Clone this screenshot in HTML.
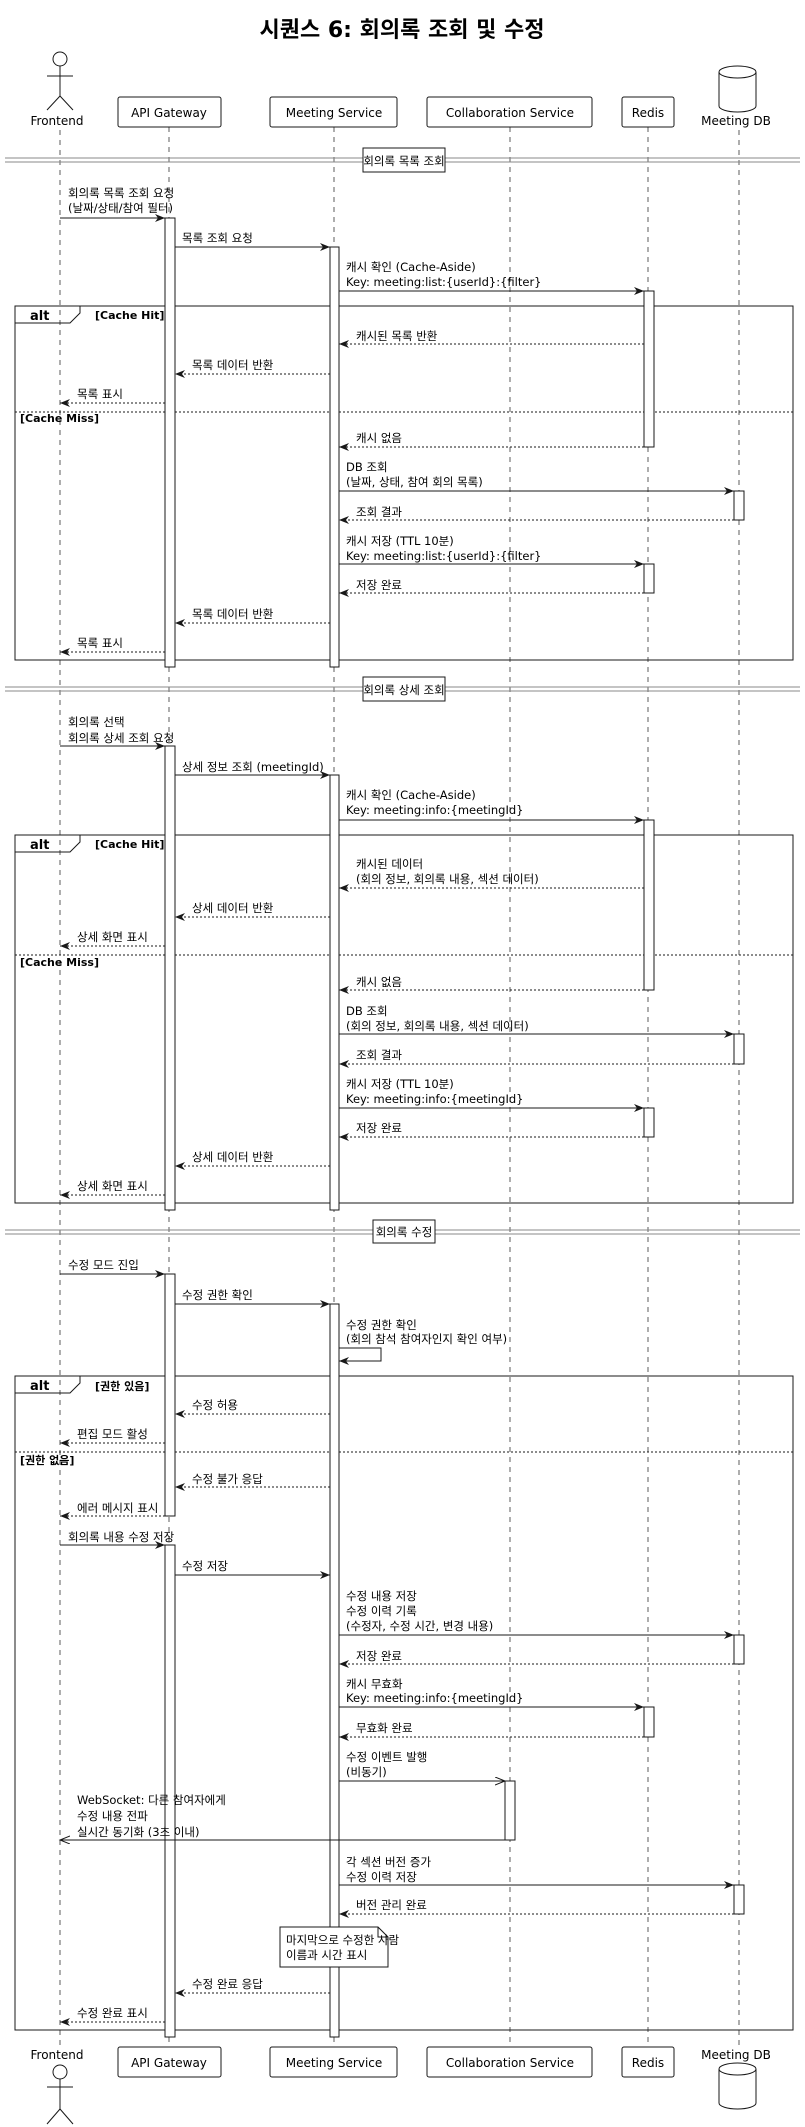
<!DOCTYPE html>
<html><head><meta charset="utf-8">
<style>
html,body{margin:0;padding:0;background:#fff;}
svg{display:block;}
text{font-family:"DejaVu Sans","Liberation Sans","Noto Sans CJK KR",sans-serif;font-size:12px;fill:#000;}
.t{font-size:11.5px;}
.b{font-weight:bold;font-size:11px;}
.ll{stroke:#181818;stroke-width:0.7;stroke-dasharray:5,5;}
.m{stroke:#181818;stroke-width:1;fill:none;}
.r{stroke:#181818;stroke-width:1;stroke-dasharray:2,2;fill:none;}
.act{fill:#fff;stroke:#181818;stroke-width:1;}
.box{fill:#fff;stroke:#181818;stroke-width:1;}
</style></head><body>
<svg width="805" height="2127" viewBox="0 0 805 2127" xmlns="http://www.w3.org/2000/svg">
<defs>
<marker id="a" markerWidth="12" markerHeight="10" refX="10" refY="4" orient="auto" markerUnits="userSpaceOnUse"><path d="M0,0 L10,4 L0,8 L3,4 Z" fill="#181818"/></marker>
<marker id="o" markerWidth="12" markerHeight="10" refX="10" refY="4" orient="auto" markerUnits="userSpaceOnUse"><path d="M0,0 L10,4 L0,8" fill="none" stroke="#181818"/></marker>
</defs>
<text x="402" y="37" text-anchor="middle" style="font-size:22px;font-weight:bold">시퀀스 6: 회의록 조회 및 수정</text>

<!-- lifelines -->
<line class="ll" x1="60" y1="130" x2="60" y2="2047"/>
<line class="ll" x1="169" y1="127" x2="169" y2="2047"/>
<line class="ll" x1="334" y1="127" x2="334" y2="2047"/>
<line class="ll" x1="510" y1="127" x2="510" y2="2047"/>
<line class="ll" x1="648" y1="127" x2="648" y2="2047"/>
<line class="ll" x1="739" y1="130" x2="739" y2="2047"/>

<!-- top participants -->
<g fill="none" stroke="#181818" stroke-width="1">
<circle cx="60" cy="59" r="7" fill="#fff"/><line x1="60" y1="66" x2="60" y2="96"/><line x1="47" y1="76" x2="73" y2="76"/><line x1="60" y1="96" x2="47" y2="110"/><line x1="60" y1="96" x2="73" y2="110"/>
<path d="M719,72 L719,106 A18.5,6 0 0 0 756,106 L756,72 A18.5,6 0 0 0 719,72 A18.5,6 0 0 0 756,72" fill="#fff"/>
</g>
<text x="57" y="125" text-anchor="middle">Frontend</text>
<text x="736" y="125" text-anchor="middle">Meeting DB</text>
<rect class="box" x="118" y="97" width="103" height="30" rx="2"/><text x="169" y="117" text-anchor="middle">API Gateway</text>
<rect class="box" x="270" y="97" width="127" height="30" rx="2"/><text x="334" y="117" text-anchor="middle">Meeting Service</text>
<rect class="box" x="427" y="97" width="165" height="30" rx="2"/><text x="510" y="117" text-anchor="middle">Collaboration Service</text>
<rect class="box" x="622" y="97" width="52" height="30" rx="2"/><text x="648" y="117" text-anchor="middle">Redis</text>

<!-- bottom participants -->
<rect class="box" x="118" y="2047" width="103" height="30" rx="2"/><text x="169" y="2067" text-anchor="middle">API Gateway</text>
<rect class="box" x="270" y="2047" width="127" height="30" rx="2"/><text x="334" y="2067" text-anchor="middle">Meeting Service</text>
<rect class="box" x="427" y="2047" width="165" height="30" rx="2"/><text x="510" y="2067" text-anchor="middle">Collaboration Service</text>
<rect class="box" x="622" y="2047" width="52" height="30" rx="2"/><text x="648" y="2067" text-anchor="middle">Redis</text>
<text x="57" y="2059" text-anchor="middle">Frontend</text>
<text x="736" y="2059" text-anchor="middle">Meeting DB</text>
<g fill="none" stroke="#181818" stroke-width="1">
<circle cx="60" cy="2072" r="7" fill="#fff"/><line x1="60" y1="2079" x2="60" y2="2109"/><line x1="47" y1="2087" x2="73" y2="2087"/><line x1="60" y1="2109" x2="47" y2="2124"/><line x1="60" y1="2109" x2="73" y2="2124"/>
<path d="M719,2069 L719,2103 A18.5,6 0 0 0 756,2103 L756,2069 A18.5,6 0 0 0 719,2069 A18.5,6 0 0 0 756,2069" fill="#fff"/>
</g>

<!-- dividers -->
<g stroke="#888" stroke-width="1">
<line x1="5" y1="158" x2="800" y2="158"/><line x1="5" y1="162" x2="800" y2="162"/>
<line x1="5" y1="687" x2="800" y2="687"/><line x1="5" y1="691" x2="800" y2="691"/>
<line x1="5" y1="1230" x2="800" y2="1230"/><line x1="5" y1="1234" x2="800" y2="1234"/>
</g>
<rect class="box" x="363" y="148" width="82" height="24"/><text x="404" y="165" text-anchor="middle" class="t">회의록 목록 조회</text>
<rect class="box" x="363" y="677" width="82" height="24"/><text x="404" y="694" text-anchor="middle" class="t">회의록 상세 조회</text>
<rect class="box" x="373" y="1220" width="62" height="23"/><text x="404" y="1236" text-anchor="middle" class="t">회의록 수정</text>

<!-- alt frames -->
<g fill="none" stroke="#181818" stroke-width="1">
<rect x="15" y="306" width="778" height="354"/><path d="M15,323 L70,323 L80,313 L80,306"/>
<line x1="15" y1="412" x2="793" y2="412" stroke-dasharray="2,2"/>
<rect x="15" y="835" width="778" height="368"/><path d="M15,852 L70,852 L80,842 L80,835"/>
<line x1="15" y1="955" x2="793" y2="955" stroke-dasharray="2,2"/>
<rect x="15" y="1376" width="778" height="654"/><path d="M15,1393 L70,1393 L80,1383 L80,1376"/>
<line x1="15" y1="1452" x2="793" y2="1452" stroke-dasharray="2,2"/>
</g>
<text x="30" y="320" class="b" style="font-size:13px">alt</text><text x="95" y="319" class="b">[Cache Hit]</text><text x="20" y="422" class="b">[Cache Miss]</text>
<text x="30" y="849" class="b" style="font-size:13px">alt</text><text x="95" y="848" class="b">[Cache Hit]</text><text x="20" y="966" class="b">[Cache Miss]</text>
<text x="30" y="1390" class="b" style="font-size:13px">alt</text><text x="95" y="1390" class="b">[권한 있음]</text><text x="20" y="1464" class="b">[권한 없음]</text>

<!-- activations -->
<rect class="act" x="165" y="218" width="10" height="449"/>
<rect class="act" x="330" y="247" width="9" height="420"/>
<rect class="act" x="644" y="291" width="10" height="156"/>
<rect class="act" x="734" y="491" width="10" height="29"/>
<rect class="act" x="644" y="564" width="10" height="29"/>
<rect class="act" x="165" y="746" width="10" height="464"/>
<rect class="act" x="330" y="775" width="9" height="435"/>
<rect class="act" x="644" y="820" width="10" height="170"/>
<rect class="act" x="734" y="1034" width="10" height="30"/>
<rect class="act" x="644" y="1108" width="10" height="29"/>
<rect class="act" x="165" y="1274" width="10" height="242"/>
<rect class="act" x="330" y="1304" width="9" height="733"/>
<rect class="act" x="165" y="1545" width="10" height="492"/>
<rect class="act" x="734" y="1635" width="10" height="29"/>
<rect class="act" x="644" y="1707" width="10" height="30"/>
<rect class="act" x="505" y="1781" width="10" height="59"/>
<rect class="act" x="734" y="1885" width="10" height="29"/>

<!-- section 1 -->
<text x="68" y="197" class="t">회의록 목록 조회 요청</text><text x="68" y="212" class="t">(날짜/상태/참여 필터)</text>
<line class="m" x1="60" y1="218" x2="165" y2="218" marker-end="url(#a)"/>
<text x="182" y="242" class="t">목록 조회 요청</text>
<line class="m" x1="175" y1="247" x2="330" y2="247" marker-end="url(#a)"/>
<text x="346" y="271" class="t">캐시 확인 (Cache-Aside)</text><text x="346" y="286" class="t">Key: meeting:list:{userId}:{filter}</text>
<line class="m" x1="339" y1="291" x2="644" y2="291" marker-end="url(#a)"/>
<text x="356" y="340" class="t">캐시된 목록 반환</text>
<line class="r" x1="644" y1="344" x2="339" y2="344" marker-end="url(#a)"/>
<text x="192" y="369" class="t">목록 데이터 반환</text>
<line class="r" x1="330" y1="374" x2="175" y2="374" marker-end="url(#a)"/>
<text x="77" y="398" class="t">목록 표시</text>
<line class="r" x1="165" y1="403" x2="60" y2="403" marker-end="url(#a)"/>
<text x="356" y="442" class="t">캐시 없음</text>
<line class="r" x1="644" y1="447" x2="339" y2="447" marker-end="url(#a)"/>
<text x="346" y="471" class="t">DB 조회</text><text x="346" y="486" class="t">(날짜, 상태, 참여 회의 목록)</text>
<line class="m" x1="339" y1="491" x2="734" y2="491" marker-end="url(#a)"/>
<text x="356" y="516" class="t">조회 결과</text>
<line class="r" x1="734" y1="520" x2="339" y2="520" marker-end="url(#a)"/>
<text x="346" y="545" class="t">캐시 저장 (TTL 10분)</text><text x="346" y="560" class="t">Key: meeting:list:{userId}:{filter}</text>
<line class="m" x1="339" y1="564" x2="644" y2="564" marker-end="url(#a)"/>
<text x="356" y="589" class="t">저장 완료</text>
<line class="r" x1="644" y1="593" x2="339" y2="593" marker-end="url(#a)"/>
<text x="192" y="618" class="t">목록 데이터 반환</text>
<line class="r" x1="330" y1="623" x2="175" y2="623" marker-end="url(#a)"/>
<text x="77" y="647" class="t">목록 표시</text>
<line class="r" x1="165" y1="652" x2="60" y2="652" marker-end="url(#a)"/>

<!-- section 2 -->
<text x="68" y="726" class="t">회의록 선택</text><text x="68" y="742" class="t">회의록 상세 조회 요청</text>
<line class="m" x1="60" y1="746" x2="165" y2="746" marker-end="url(#a)"/>
<text x="182" y="771" class="t">상세 정보 조회 (meetingId)</text>
<line class="m" x1="175" y1="775" x2="330" y2="775" marker-end="url(#a)"/>
<text x="346" y="799" class="t">캐시 확인 (Cache-Aside)</text><text x="346" y="814" class="t">Key: meeting:info:{meetingId}</text>
<line class="m" x1="339" y1="820" x2="644" y2="820" marker-end="url(#a)"/>
<text x="356" y="868" class="t">캐시된 데이터</text><text x="356" y="883" class="t">(회의 정보, 회의록 내용, 섹션 데이터)</text>
<line class="r" x1="644" y1="888" x2="339" y2="888" marker-end="url(#a)"/>
<text x="192" y="912" class="t">상세 데이터 반환</text>
<line class="r" x1="330" y1="917" x2="175" y2="917" marker-end="url(#a)"/>
<text x="77" y="941" class="t">상세 화면 표시</text>
<line class="r" x1="165" y1="946" x2="60" y2="946" marker-end="url(#a)"/>
<text x="356" y="986" class="t">캐시 없음</text>
<line class="r" x1="644" y1="990" x2="339" y2="990" marker-end="url(#a)"/>
<text x="346" y="1015" class="t">DB 조회</text><text x="346" y="1030" class="t">(회의 정보, 회의록 내용, 섹션 데이터)</text>
<line class="m" x1="339" y1="1034" x2="734" y2="1034" marker-end="url(#a)"/>
<text x="356" y="1059" class="t">조회 결과</text>
<line class="r" x1="734" y1="1064" x2="339" y2="1064" marker-end="url(#a)"/>
<text x="346" y="1088" class="t">캐시 저장 (TTL 10분)</text><text x="346" y="1103" class="t">Key: meeting:info:{meetingId}</text>
<line class="m" x1="339" y1="1108" x2="644" y2="1108" marker-end="url(#a)"/>
<text x="356" y="1132" class="t">저장 완료</text>
<line class="r" x1="644" y1="1137" x2="339" y2="1137" marker-end="url(#a)"/>
<text x="192" y="1161" class="t">상세 데이터 반환</text>
<line class="r" x1="330" y1="1166" x2="175" y2="1166" marker-end="url(#a)"/>
<text x="77" y="1190" class="t">상세 화면 표시</text>
<line class="r" x1="165" y1="1195" x2="60" y2="1195" marker-end="url(#a)"/>

<!-- section 3 -->
<text x="68" y="1269" class="t">수정 모드 진입</text>
<line class="m" x1="60" y1="1274" x2="165" y2="1274" marker-end="url(#a)"/>
<text x="182" y="1299" class="t">수정 권한 확인</text>
<line class="m" x1="175" y1="1304" x2="330" y2="1304" marker-end="url(#a)"/>
<text x="346" y="1329" class="t">수정 권한 확인</text><text x="346" y="1343" class="t">(회의 참석 참여자인지 확인 여부)</text>
<path class="m" d="M339,1348 L381,1348 L381,1361 L339,1361" marker-end="url(#a)"/>
<text x="192" y="1409" class="t">수정 허용</text>
<line class="r" x1="330" y1="1414" x2="175" y2="1414" marker-end="url(#a)"/>
<text x="77" y="1438" class="t">편집 모드 활성</text>
<line class="r" x1="165" y1="1443" x2="60" y2="1443" marker-end="url(#a)"/>
<text x="192" y="1483" class="t">수정 불가 응답</text>
<line class="r" x1="330" y1="1487" x2="175" y2="1487" marker-end="url(#a)"/>
<text x="77" y="1512" class="t">에러 메시지 표시</text>
<line class="r" x1="165" y1="1516" x2="60" y2="1516" marker-end="url(#a)"/>
<text x="68" y="1541" class="t">회의록 내용 수정 저장</text>
<line class="m" x1="60" y1="1545" x2="165" y2="1545" marker-end="url(#a)"/>
<text x="182" y="1570" class="t">수정 저장</text>
<line class="m" x1="175" y1="1575" x2="330" y2="1575" marker-end="url(#a)"/>
<text x="346" y="1600" class="t">수정 내용 저장</text><text x="346" y="1615" class="t">수정 이력 기록</text><text x="346" y="1630" class="t">(수정자, 수정 시간, 변경 내용)</text>
<line class="m" x1="339" y1="1635" x2="734" y2="1635" marker-end="url(#a)"/>
<text x="356" y="1660" class="t">저장 완료</text>
<line class="r" x1="734" y1="1664" x2="339" y2="1664" marker-end="url(#a)"/>
<text x="346" y="1688" class="t">캐시 무효화</text><text x="346" y="1702" class="t">Key: meeting:info:{meetingId}</text>
<line class="m" x1="339" y1="1707" x2="644" y2="1707" marker-end="url(#a)"/>
<text x="356" y="1732" class="t">무효화 완료</text>
<line class="r" x1="644" y1="1737" x2="339" y2="1737" marker-end="url(#a)"/>
<text x="346" y="1761" class="t">수정 이벤트 발행</text><text x="346" y="1776" class="t">(비동기)</text>
<line class="m" x1="339" y1="1781" x2="505" y2="1781" marker-end="url(#o)"/>
<text x="77" y="1804" class="t">WebSocket: 다른 참여자에게</text><text x="77" y="1820" class="t">수정 내용 전파</text><text x="77" y="1836" class="t">실시간 동기화 (3초 이내)</text>
<line class="m" x1="505" y1="1840" x2="60" y2="1840" marker-end="url(#o)"/>
<text x="346" y="1866" class="t">각 섹션 버전 증가</text><text x="346" y="1881" class="t">수정 이력 저장</text>
<line class="m" x1="339" y1="1885" x2="734" y2="1885" marker-end="url(#a)"/>
<text x="356" y="1909" class="t">버전 관리 완료</text>
<line class="r" x1="734" y1="1914" x2="339" y2="1914" marker-end="url(#a)"/>
<path d="M280,1927 L378,1927 L388,1937 L388,1967 L280,1967 Z" fill="#fff" stroke="#181818"/>
<path d="M378,1927 L378,1937 L388,1937" fill="none" stroke="#181818"/>
<text x="286" y="1944" class="t">마지막으로 수정한 사람</text><text x="286" y="1959" class="t">이름과 시간 표시</text>
<text x="192" y="1988" class="t">수정 완료 응답</text>
<line class="r" x1="330" y1="1993" x2="175" y2="1993" marker-end="url(#a)"/>
<text x="77" y="2017" class="t">수정 완료 표시</text>
<line class="r" x1="165" y1="2022" x2="60" y2="2022" marker-end="url(#a)"/>
</svg>
</body></html>
